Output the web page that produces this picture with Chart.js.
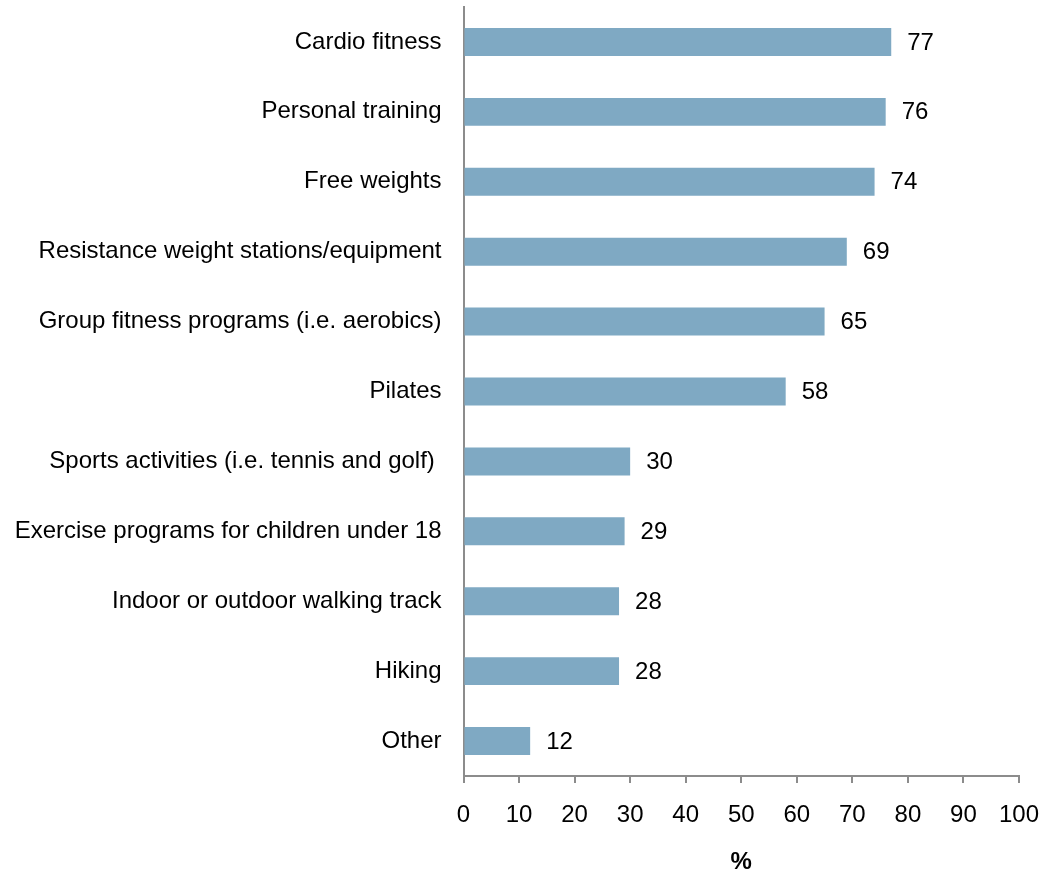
<!DOCTYPE html>
<html>
<head>
<meta charset="utf-8">
<script src="https://cdn.jsdelivr.net/npm/chart.js@4/dist/chart.umd.min.js"></script>
<style>
  html, body { margin: 0; padding: 0; background: #ffffff; }
  #wrap { width: 1053px; height: 874px; }
</style>
</head>
<body>
<div id="wrap"><canvas id="c" width="1053" height="874"></canvas></div>
<script>
// Facility usage by activity (% of respondents)
const categories = [
  'Cardio fitness',
  'Personal training',
  'Free weights',
  'Resistance weight stations/equipment',
  'Group fitness programs (i.e. aerobics)',
  'Pilates',
  'Sports activities (i.e. tennis and golf) ',
  'Exercise programs for children under 18',
  'Indoor or outdoor walking track',
  'Hiking',
  'Other'
];
const values = [77, 76, 74, 69, 65, 58, 30, 29, 28, 28, 12];
const xTicks = [0, 10, 20, 30, 40, 50, 60, 70, 80, 90, 100];
const axisTitle = '%';

const FONT = 'Liberation Sans, Arial, Helvetica, sans-serif';
const AXIS_GREY = '#8c8c8c';

// Writes each bar's value just past its end
const valueLabels = {
  id: 'valueLabels',
  afterDatasetsDraw(chart) {
    const ctx = chart.ctx;
    const meta = chart.getDatasetMeta(0);
    ctx.save();
    ctx.font = '24px ' + FONT;
    ctx.fillStyle = '#000000';
    ctx.textAlign = 'left';
    ctx.textBaseline = 'middle';
    meta.data.forEach((bar, i) => {
      ctx.fillText(String(values[i]), bar.x + 16, bar.y + 1);
    });
    ctx.restore();
  }
};

new Chart(document.getElementById('c'), {
  type: 'bar',
  data: {
    labels: categories,
    datasets: [{
      data: values,
      backgroundColor: '#7fa9c3',
      borderWidth: 0,
      categoryPercentage: 1.0,
      barPercentage: 0.4
    }]
  },
  options: {
    indexAxis: 'y',
    responsive: false,
    animation: false,
    layout: { padding: { top: 7, right: 34, left: 0, bottom: 0 } },
    plugins: {
      legend: { display: false },
      tooltip: { enabled: false }
    },
    scales: {
      x: {
        type: 'linear',
        min: 0,
        max: 100,
        afterBuildTicks(scale) {
          scale.ticks = xTicks.map(v => ({ value: v }));
        },
        afterFit(scale) {
          scale.height = 98;
          scale.paddingLeft = 0;
          scale.paddingRight = 0;
        },
        grid: {
          drawOnChartArea: false,
          drawTicks: true,
          tickLength: 7,
          color: AXIS_GREY,
          lineWidth: 2
        },
        border: { display: true, color: AXIS_GREY, width: 2 },
        ticks: {
          color: '#000000',
          font: { family: FONT, size: 24 },
          padding: 18,
          maxRotation: 0
        },
        title: {
          display: true,
          text: axisTitle,
          color: '#000000',
          font: { family: FONT, size: 24, weight: 'bold', lineHeight: 1 },
          padding: { top: 0, bottom: 0 }
        }
      },
      y: {
        afterFit(scale) {
          scale.width = 463.5;
          scale.paddingTop = 0;
          scale.paddingBottom = 0;
        },
        grid: { display: false, drawTicks: false },
        border: { display: true, color: AXIS_GREY, width: 2 },
        ticks: {
          color: '#000000',
          font: { family: FONT, size: 24 },
          padding: 22,
          autoSkip: false
        }
      }
    }
  },
  plugins: [valueLabels]
});
</script>
</body>
</html>
